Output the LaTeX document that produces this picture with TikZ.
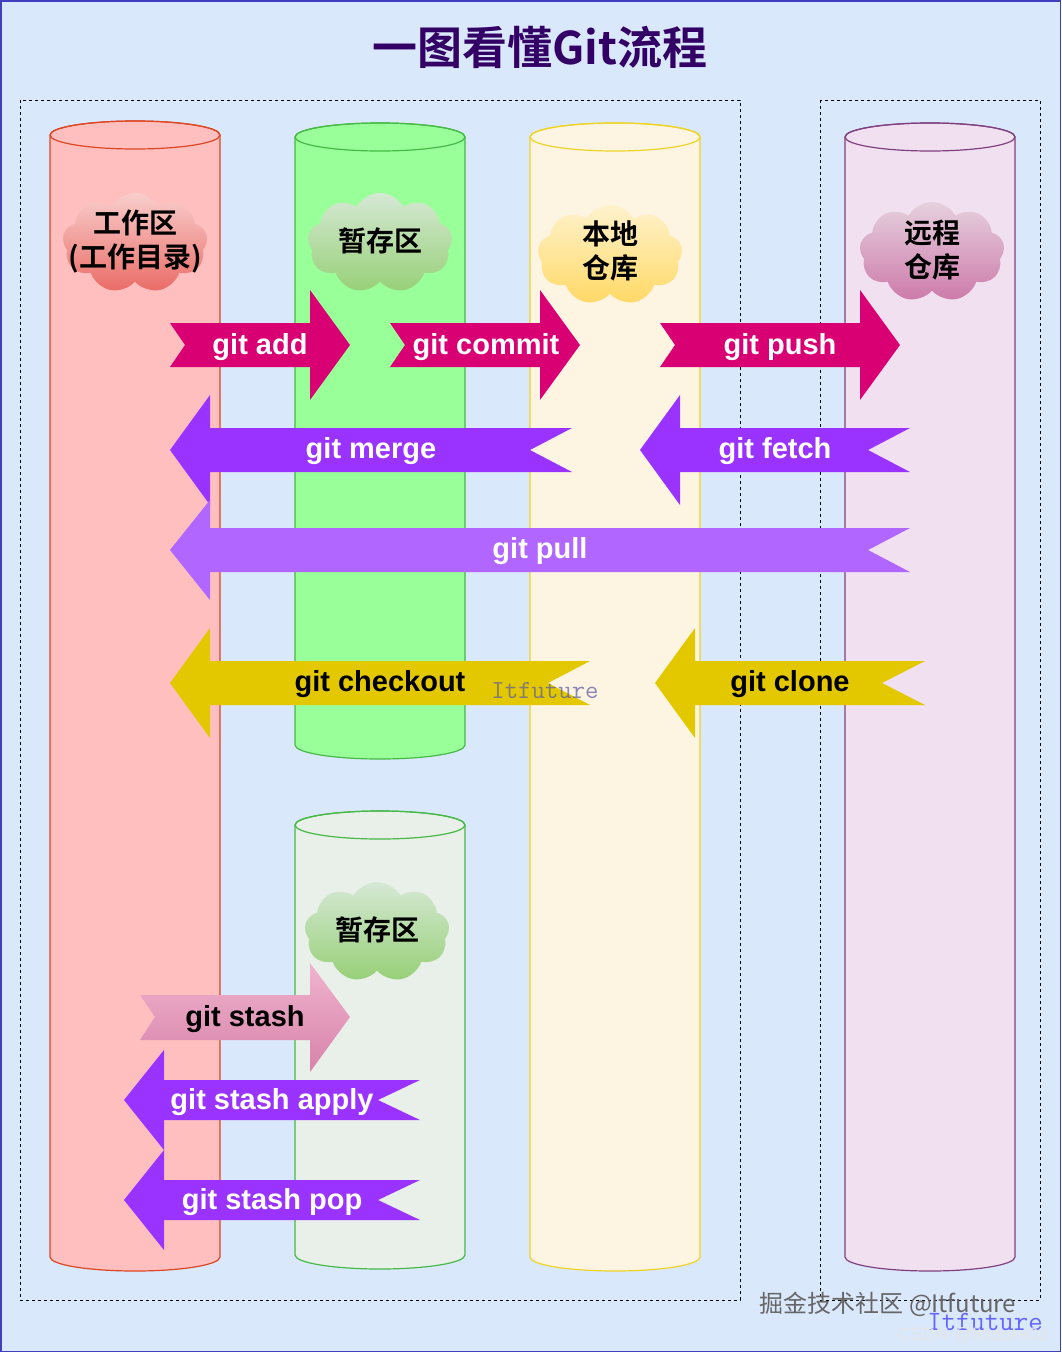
\documentclass[tikz,border=0pt]{standalone}
\usepackage{fontspec}
\setmainfont{Liberation Sans}
\newfontfamily\cjk{Noto Sans CJK SC}
\newfontfamily\cjkb{Noto Sans CJK SC Bold}
\usetikzlibrary{shapes.symbols}
\definecolor{bg}{HTML}{DAE8FC}
\definecolor{pinkA}{HTML}{D80073}
\definecolor{purA}{HTML}{9A33FF}
\definecolor{purB}{HTML}{B066FF}
\definecolor{yelA}{HTML}{E3C800}
\tikzset{
 cyl/.style={line width=1.2pt},
 cloudn/.style={cloud, cloud puffs=9, cloud puff arc=120, aspect=1.45, minimum width=145pt, minimum height=100pt, inner sep=0pt, draw=none},
 ctext/.style={align=center, font=\cjkb\fontsize{28}{34}\selectfont, inner sep=0pt},
 lbl/.style={font=\bfseries\fontsize{29}{30}\selectfont, text=white, inner sep=0pt},
}
\newcommand\rarr[8]{\fill[#8] (#1,#5-#6) -- (#3,#5-#6) -- (#3,#5-#7) -- (#4,#5) -- (#3,#5+#7) -- (#3,#5+#6) -- (#1,#5+#6) -- (#2,#5) -- cycle;}
\newcommand\cylinder[6]{%
 \draw[cyl, fill=#5, draw=#6] (#1,#3) -- (#1,#4) arc[start angle=180,end angle=0,x radius={(#2-#1)/2},y radius=14] -- (#2,#3) arc[start angle=0,end angle=-180,x radius={(#2-#1)/2},y radius=14] -- cycle;
 \draw[cyl, draw=#6] (#1,#3) arc[start angle=180,end angle=-180,x radius={(#2-#1)/2},y radius=14];}
\begin{document}
\begin{tikzpicture}[x=1pt,y=-1pt]
\fill[bg] (0,0) rectangle (1061,1352);
\draw[color=blue!50!gray, line width=1.5pt] (0.75,0.75) rectangle (1060.25,1351.25);
\useasboundingbox (0,0) rectangle (1061,1352);
\node[font=\cjkb\fontsize{45}{48}\selectfont, text={rgb,255:red,51;green,0;blue,102}] (title) at (540,47) {一图看懂Git流程};
\draw[dashed, line width=0.7pt] (20,100) rectangle (740,1300);
\draw[dashed, line width=0.7pt] (820,100) rectangle (1040,1300);
\cylinder{50}{220}{135}{1257}{red!25!white}{red!45!brown}
\cylinder{295}{465}{137}{745}{green!40!white}{green!45!gray}
\cylinder{530}{700}{137}{1257}{yellow!20!orange!10!white}{yellow!70!brown}
\cylinder{845}{1015}{137}{1257}{violet!12!white}{violet!50!gray}
\cylinder{295}{465}{825}{1255}{green!15!gray!15!white}{green!45!gray}
\node[cloudn, top color={rgb,255:red,248;green,206;blue,204}, bottom color={rgb,255:red,234;green,107;blue,102}] (c1) at (135,243) {};
\node[ctext] (t1) at (135,241) {工作区\\(工作目录)};
\node[cloudn, top color={rgb,255:red,213;green,232;blue,212}, bottom color={rgb,255:red,151;green,208;blue,119}] (c2) at (380,243) {};
\node[ctext] (t2) at (380,241) {暂存区};
\node[cloudn, top color={rgb,255:red,255;green,242;blue,204}, bottom color={rgb,255:red,255;green,217;blue,102}] (c3) at (610,255) {};
\node[ctext] (t3) at (610,251) {本地\\仓库};
\node[cloudn, top color={rgb,255:red,230;green,208;blue,222}, bottom color={rgb,255:red,205;green,122;blue,170}] (c4) at (932,252) {};
\node[ctext] (t4) at (932,250) {远程\\仓库};
\node[cloudn, top color={rgb,255:red,213;green,232;blue,212}, bottom color={rgb,255:red,151;green,208;blue,119}] (c5) at (377,932) {};
\node[ctext] (t5) at (377,930) {暂存区};
\rarr{170}{185}{310}{350}{345}{22}{55}{pinkA}
\rarr{390}{405}{540}{580}{345}{22}{55}{pinkA}
\rarr{660}{675}{860}{900}{345}{22}{55}{pinkA}
\rarr{572}{530}{210}{170}{450}{22}{55}{purA}
\rarr{910}{868}{680}{640}{450}{22}{55}{purA}
\rarr{910}{868}{210}{170}{550}{22}{50}{purB}
\rarr{590}{548}{210}{170}{683}{22}{55}{yelA}
\rarr{925}{882}{695}{655}{683}{22}{55}{yelA}
\shade[top color={rgb,255:red,240;green,180;blue,205}, bottom color={rgb,255:red,215;green,130;blue,170}] (140,995) -- (310,995) -- (310,963) -- (350,1017) -- (310,1072) -- (310,1040) -- (140,1040) -- (155,1017) -- cycle;
\rarr{420}{378}{164}{124}{1100}{20}{50}{purA}
\rarr{420}{378}{164}{124}{1200}{20}{50}{purA}
\node[lbl] (ladd) at (260,347) {git add};
\node[lbl] (lcommit) at (486,347) {git commit};
\node[lbl] (lpush) at (780,347) {git push};
\node[lbl] (lmerge) at (371,451) {git merge};
\node[lbl] (lfetch) at (775,451) {git fetch};
\node[lbl] (lpull) at (540,551) {git pull};
\node[lbl, text=black] (lco) at (380,684) {git checkout};
\node[lbl, text=black] (lcl) at (790,684) {git clone};
\node[lbl, text=black] (lst) at (245,1019) {git stash};
\node[lbl] (lsa) at (272,1102) {git stash apply};
\node[lbl] (lsp) at (272,1202) {git stash pop};
\node[font=\ttfamily\fontsize{26}{28}\selectfont, text=gray!70!blue, opacity=0.7] (w1) at (545,691) {Itfuture};
\node[font=\cjk\fontsize{24}{26}\selectfont, text=gray!80!black] (w2) at (888,1304) {掘金技术社区 @Itfuture};
\node[font=\ttfamily\fontsize{28}{30}\selectfont, text=blue!60!white] (w3) at (985,1322) {Itfuture};
\node[font=\fontsize{18}{20}\selectfont, text=white!80!gray] (w4) at (973,1335) {CSDN @Itfuture03};
\end{tikzpicture}
\end{document}
